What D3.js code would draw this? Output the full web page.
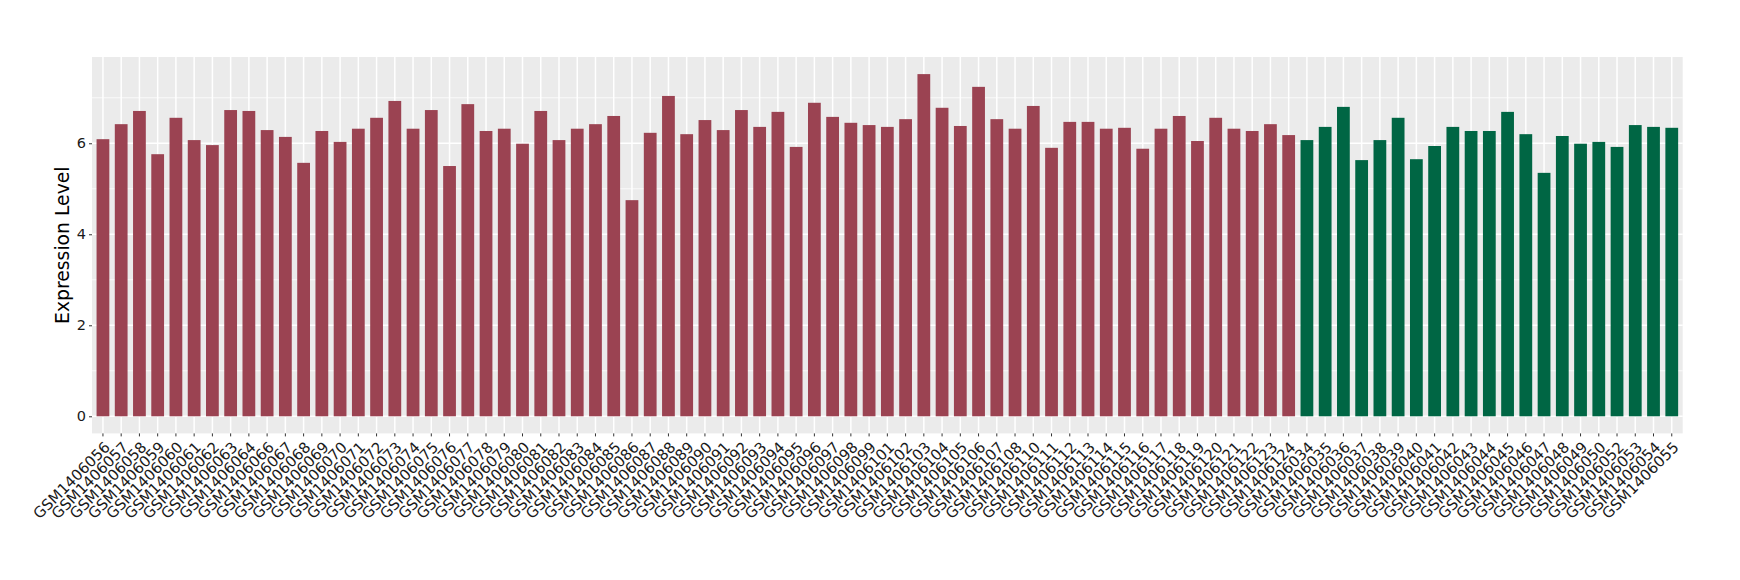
<!DOCTYPE html>
<html>
<head>
<meta charset="utf-8">
<script src="https://cdn.jsdelivr.net/npm/d3@7"></script>
<style>
  html, body { margin: 0; padding: 0; background: #ffffff; }
  svg { display: block; }
  text { font-family: "DejaVu Sans", sans-serif; }
</style>
</head>
<body>
<svg id="chart" width="1740" height="580"></svg>
<script>
// ---- data ----
const redSamples = ["GSM1406056","GSM1406057","GSM1406058","GSM1406059","GSM1406060","GSM1406061","GSM1406062","GSM1406063","GSM1406064","GSM1406066","GSM1406067","GSM1406068","GSM1406069","GSM1406070","GSM1406071","GSM1406072","GSM1406073","GSM1406074","GSM1406075","GSM1406076","GSM1406077","GSM1406078","GSM1406079","GSM1406080","GSM1406081","GSM1406082","GSM1406083","GSM1406084","GSM1406085","GSM1406086","GSM1406087","GSM1406088","GSM1406089","GSM1406090","GSM1406091","GSM1406092","GSM1406093","GSM1406094","GSM1406095","GSM1406096","GSM1406097","GSM1406098","GSM1406099","GSM1406101","GSM1406102","GSM1406103","GSM1406104","GSM1406105","GSM1406106","GSM1406107","GSM1406108","GSM1406110","GSM1406111","GSM1406112","GSM1406113","GSM1406114","GSM1406115","GSM1406116","GSM1406117","GSM1406118","GSM1406119","GSM1406120","GSM1406121","GSM1406122","GSM1406123","GSM1406124"];
const redValues = [6.09,6.42,6.71,5.76,6.56,6.07,5.96,6.73,6.71,6.29,6.14,5.57,6.27,6.03,6.32,6.56,6.93,6.32,6.73,5.50,6.86,6.27,6.32,5.99,6.71,6.07,6.32,6.42,6.60,4.75,6.23,7.04,6.20,6.51,6.29,6.73,6.36,6.69,5.92,6.89,6.58,6.45,6.40,6.36,6.53,7.52,6.78,6.38,7.24,6.53,6.32,6.82,5.90,6.47,6.47,6.32,6.34,5.88,6.32,6.60,6.05,6.56,6.32,6.27,6.42,6.18];
const greenSamples = ["GSM1406034","GSM1406035","GSM1406036","GSM1406037","GSM1406038","GSM1406039","GSM1406040","GSM1406041","GSM1406042","GSM1406043","GSM1406044","GSM1406045","GSM1406046","GSM1406047","GSM1406048","GSM1406049","GSM1406050","GSM1406052","GSM1406053","GSM1406054","GSM1406055"];
const greenValues = [6.07,6.36,6.80,5.63,6.07,6.56,5.65,5.94,6.36,6.27,6.27,6.69,6.20,5.35,6.16,5.99,6.03,5.92,6.40,6.36,6.34];
const yTicks = [0, 2, 4, 6];
const yMinor = [1, 3, 5, 7];
const yTitle = "Expression Level";
const groupColors = { red: "#9B4352", green: "#006644" };

// ---- build ----
const data = redSamples.map((s, i) => ({ s, v: redValues[i], g: "red" }))
  .concat(greenSamples.map((s, i) => ({ s, v: greenValues[i], g: "green" })));

const svg = d3.select("#chart");
const panel = { left: 92, right: 1682.7, top: 57, bottom: 433.4 };

const maxV = d3.max(data, d => d.v);
const pad = maxV * 0.05;
const y = d3.scaleLinear().domain([-pad, maxV + pad]).range([panel.bottom, panel.top]);
const x = d3.scaleBand().domain(data.map(d => d.s))
  .range([panel.left, panel.right]).paddingInner(0.3).paddingOuter(0.25);

// background
svg.append("rect").attr("x", panel.left).attr("y", panel.top)
  .attr("width", panel.right - panel.left).attr("height", panel.bottom - panel.top)
  .attr("fill", "#EBEBEB");

// minor grid
svg.append("g").selectAll("line").data(yMinor.filter(v => y(v) > panel.top)).join("line")
  .attr("x1", panel.left).attr("x2", panel.right)
  .attr("y1", d => y(d)).attr("y2", d => y(d))
  .attr("stroke", "#ffffff").attr("stroke-width", 0.75);
// major grid
svg.append("g").selectAll("line").data(yTicks).join("line")
  .attr("x1", panel.left).attr("x2", panel.right)
  .attr("y1", d => y(d)).attr("y2", d => y(d))
  .attr("stroke", "#ffffff").attr("stroke-width", 1.5);
svg.append("g").selectAll("line").data(data).join("line")
  .attr("x1", d => x(d.s) + x.bandwidth() / 2).attr("x2", d => x(d.s) + x.bandwidth() / 2)
  .attr("y1", panel.top).attr("y2", panel.bottom)
  .attr("stroke", "#ffffff").attr("stroke-width", 1.5);

// bars
svg.append("g").selectAll("rect").data(data).join("rect")
  .attr("x", d => x(d.s)).attr("width", x.bandwidth())
  .attr("y", d => y(d.v)).attr("height", d => y(0) - y(d.v))
  .attr("fill", d => groupColors[d.g]);

// y axis
const yAxis = svg.append("g").attr("transform", `translate(${panel.left},0)`)
  .call(d3.axisLeft(y).tickValues(yTicks).tickSize(3).tickPadding(3).tickFormat(d3.format("d")));
yAxis.select(".domain").remove();
yAxis.selectAll(".tick line").attr("stroke", "#333333").attr("stroke-width", 1);
yAxis.selectAll(".tick text").attr("fill", "#1A1A1A").style("font-size", "14.5px");

// x axis
const xAxis = svg.append("g").attr("transform", `translate(0,${panel.bottom})`)
  .call(d3.axisBottom(x).tickSize(3).tickPadding(3));
xAxis.select(".domain").remove();
xAxis.selectAll(".tick line").attr("stroke", "#333333").attr("stroke-width", 1);
xAxis.selectAll(".tick text")
  .attr("fill", "#1A1A1A").style("font-size", "15px")
  .attr("text-anchor", "end")
  .attr("x", 0).attr("y", 0).attr("dy", "0.75em")
  .attr("transform", "translate(0,7) rotate(-45)");

// y title
svg.append("text")
  .attr("transform", `translate(68.5,${(panel.top + panel.bottom) / 2}) rotate(-90)`)
  .attr("text-anchor", "middle")
  .style("font-size", "18.8px").attr("fill", "#000000")
  .text(yTitle);
</script>
</body>
</html>
